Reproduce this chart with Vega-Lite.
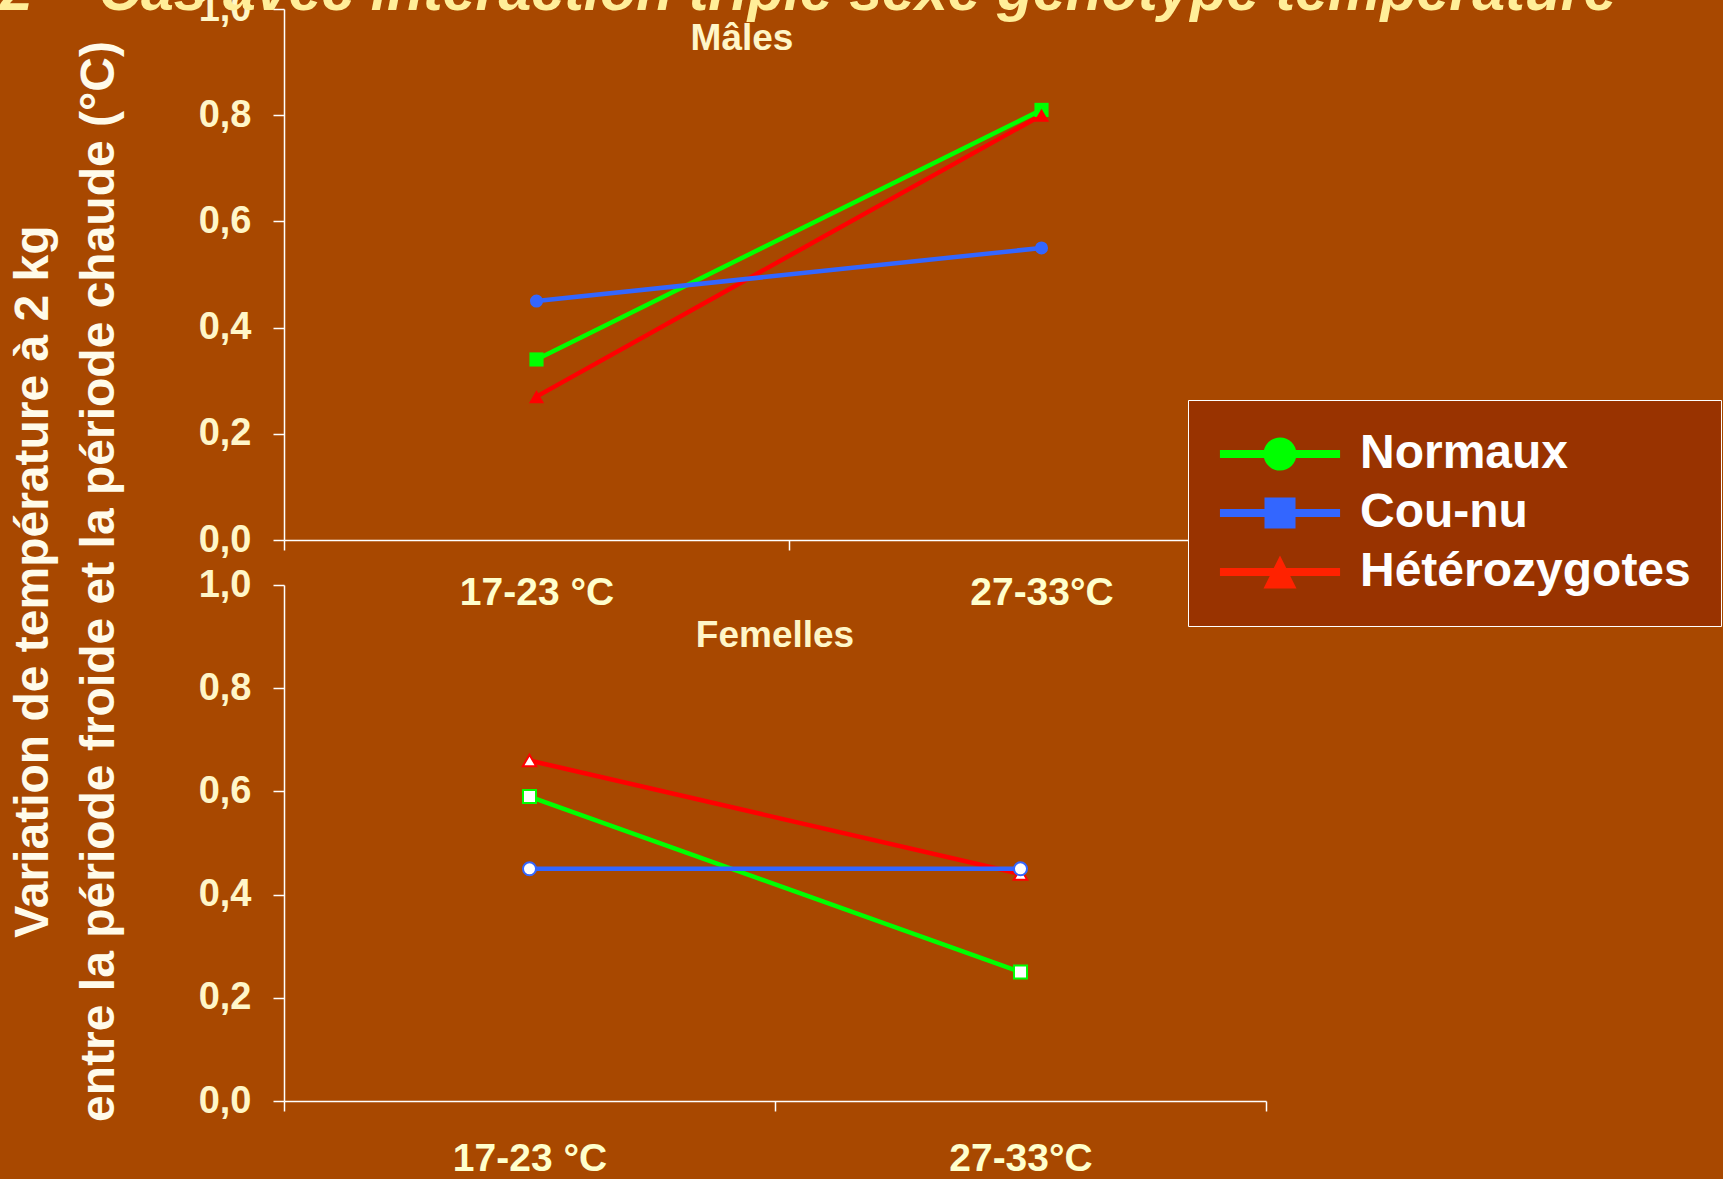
{
  "$schema": "https://vega.github.io/schema/vega-lite/v6.json",
  "background": "#A84800",
  "padding": {"left": 0, "top": -37, "right": 12, "bottom": 20},
  "autosize": {"type": "pad"},
  "title": {
    "text": "2 – Cas avec interaction triple sexe génotype température",
    "anchor": "start",
    "frame": "group",
    "dx": -284,
    "offset": -79,
    "baseline": "alphabetic",
    "font": "Liberation Sans",
    "fontSize": 59,
    "fontWeight": "bold",
    "fontStyle": "italic",
    "color": "#FFEE99"
  },
  "datasets": {
    "d": [
      {"sexe": "Mâles", "genotype": "Normaux", "temp": "17-23 °C", "valeur": 0.34},
      {"sexe": "Mâles", "genotype": "Normaux", "temp": "27-33°C", "valeur": 0.81},
      {"sexe": "Mâles", "genotype": "Hétérozygotes", "temp": "17-23 °C", "valeur": 0.27},
      {"sexe": "Mâles", "genotype": "Hétérozygotes", "temp": "27-33°C", "valeur": 0.80},
      {"sexe": "Mâles", "genotype": "Cou-nu", "temp": "17-23 °C", "valeur": 0.45},
      {"sexe": "Mâles", "genotype": "Cou-nu", "temp": "27-33°C", "valeur": 0.55},
      {"sexe": "Femelles", "genotype": "Normaux", "temp": "17-23 °C", "valeur": 0.59},
      {"sexe": "Femelles", "genotype": "Normaux", "temp": "27-33°C", "valeur": 0.25},
      {"sexe": "Femelles", "genotype": "Hétérozygotes", "temp": "17-23 °C", "valeur": 0.66},
      {"sexe": "Femelles", "genotype": "Hétérozygotes", "temp": "27-33°C", "valeur": 0.44},
      {"sexe": "Femelles", "genotype": "Cou-nu", "temp": "17-23 °C", "valeur": 0.45},
      {"sexe": "Femelles", "genotype": "Cou-nu", "temp": "27-33°C", "valeur": 0.45}
    ]
  },
  "spacing": 45,
  "bounds": "flush",
  "config": {
    "font": "Liberation Sans",
    "view": {"stroke": null},
    "axis": {
      "labelFont": "Liberation Sans",
      "labelFontWeight": "bold",
      "labelColor": "#FFF6C8",
      "domainColor": "#FFFFFF",
      "tickColor": "#FFFFFF",
      "domainWidth": 1.5,
      "tickWidth": 1.5,
      "grid": false
    }
  },
  "vconcat": [
    {
      "width": 1010,
      "height": 531,
      "title": {
        "text": "Mâles",
        "anchor": "middle",
        "offset": -97,
        "dx": -47,
        "baseline": "alphabetic",
        "font": "Liberation Sans",
        "fontSize": 37,
        "fontWeight": "bold",
        "color": "#FFF6C8"
      },
      "data": {"name": "d"},
      "transform": [{"filter": "datum.sexe === 'Mâles'"}],
      "encoding": {
        "x": {
          "field": "temp",
          "type": "nominal",
          "bandPosition": 0.5,
          "sort": ["17-23 °C", "27-33°C"],
          "scale": {"type": "band", "paddingInner": 0, "paddingOuter": 0},
          "axis": {
            "title": null,
            "labelAngle": 0,
            "labelFontSize": 39,
            "labelPadding": 23,
            "tickSize": 10,
            "tickBand": "extent",
            "labelColor": "#FFFFCC"
          }
        },
        "y": {
          "field": "valeur",
          "type": "quantitative",
          "scale": {"domain": [0, 1]},
          "axis": {
            "values": [0, 0.2, 0.4, 0.6, 0.8, 1],
            "labelExpr": "replace(format(datum.value, '.1f'), '.', ',')",
            "labelFontSize": 38,
            "labelPadding": 22,
            "tickSize": 11,
            "title": ["Variation de température à 2 kg", "entre la période froide et la période chaude (°C)"],
            "titleX": -251,
            "titleY": 572,
            "titleAngle": -90,
            "titleAlign": "center",
            "titleBaseline": "middle",
            "titleFont": "Liberation Sans",
            "titleFontSize": 48,
            "titleLineHeight": 66,
            "titleFontWeight": "bold",
            "titleColor": "#FFFBEA"
          }
        }
      },
      "layer": [
        {
          "transform": [{"filter": "datum.genotype === 'Normaux'"}],
          "mark": {"type": "line", "strokeWidth": 4.5, "color": "#00FF00"}
        },
        {
          "transform": [{"filter": "datum.genotype === 'Hétérozygotes'"}],
          "mark": {"type": "line", "strokeWidth": 4.5, "color": "#FF0000"}
        },
        {
          "transform": [{"filter": "datum.genotype === 'Cou-nu'"}],
          "mark": {"type": "line", "strokeWidth": 4.5, "color": "#3366FF"}
        },
        {
          "transform": [{"filter": "datum.genotype === 'Normaux'"}],
          "mark": {"type": "point", "shape": "square", "filled": true, "color": "#00FF00", "size": 200, "opacity": 1}
        },
        {
          "transform": [{"filter": "datum.genotype === 'Hétérozygotes'"}],
          "mark": {"type": "point", "shape": "triangle-up", "filled": true, "color": "#FF0000", "size": 230, "opacity": 1}
        },
        {
          "transform": [{"filter": "datum.genotype === 'Cou-nu'"}],
          "mark": {"type": "point", "shape": "circle", "filled": true, "color": "#3366FF", "size": 170, "opacity": 1}
        },
        {
          "mark": {"type": "point", "filled": true, "opacity": 0, "size": 10},
          "encoding": {
            "color": {
              "field": "genotype",
              "type": "nominal",
              "scale": {"domain": ["Normaux", "Cou-nu", "Hétérozygotes"], "range": ["#00FF00", "#3366FF", "#FF2200"]},
              "legend": {
                "title": null,
                "orient": "none",
                "legendX": 904,
                "legendY": 391,
                "direction": "vertical",
                "fillColor": "#993300",
                "strokeColor": "#FFFFFF",
                "padding": 30,
                "symbolSize": 1089,
                "symbolOffset": 38,
                "symbolStrokeWidth": 0,
                "symbolOpacity": 1,
                "labelFont": "Liberation Sans",
                "labelFontSize": 48,
                "labelFontWeight": "bold",
                "labelColor": "#FFFFFF",
                "labelOffset": 56,
                "labelLimit": 700,
                "rowPadding": 11
              }
            },
            "shape": {
              "field": "genotype",
              "type": "nominal",
              "scale": {
                "domain": ["Normaux", "Cou-nu", "Hétérozygotes"],
                "range": [
                  "M-3.64,-0.24H3.64V0.24H-3.64Z M-1,0A1,1 0 1,1 1,0A1,1 0 1,1 -1,0Z",
                  "M-3.64,-0.24H3.64V0.24H-3.64Z M-0.94,-0.94H0.94V0.94H-0.94Z",
                  "M-3.64,-0.24H3.64V0.24H-3.64Z M0,-1L1,1H-1Z"
                ]
              },
              "legend": {
                "title": null,
                "orient": "none",
                "legendX": 904,
                "legendY": 391,
                "direction": "vertical",
                "fillColor": "#993300",
                "strokeColor": "#FFFFFF",
                "padding": 30,
                "symbolSize": 1089,
                "symbolOffset": 38,
                "symbolStrokeWidth": 0,
                "symbolOpacity": 1,
                "labelFont": "Liberation Sans",
                "labelFontSize": 48,
                "labelFontWeight": "bold",
                "labelColor": "#FFFFFF",
                "labelOffset": 56,
                "labelLimit": 700,
                "rowPadding": 11
              }
            }
          }
        }
      ]
    },
    {
      "width": 982,
      "height": 516,
      "title": {
        "text": "Femelles",
        "anchor": "middle",
        "offset": -118,
        "baseline": "alphabetic",
        "font": "Liberation Sans",
        "fontSize": 37,
        "fontWeight": "bold",
        "color": "#FFF6C8"
      },
      "data": {"name": "d"},
      "transform": [{"filter": "datum.sexe === 'Femelles'"}],
      "encoding": {
        "x": {
          "field": "temp",
          "type": "nominal",
          "bandPosition": 0.5,
          "sort": ["17-23 °C", "27-33°C"],
          "scale": {"type": "band", "paddingInner": 0, "paddingOuter": 0},
          "axis": {
            "title": null,
            "labelAngle": 0,
            "labelFontSize": 39,
            "labelPadding": 28,
            "tickSize": 10,
            "tickBand": "extent",
            "labelColor": "#FFFFCC"
          }
        },
        "y": {
          "field": "valeur",
          "type": "quantitative",
          "scale": {"domain": [0, 1]},
          "axis": {
            "values": [0, 0.2, 0.4, 0.6, 0.8, 1],
            "labelExpr": "replace(format(datum.value, '.1f'), '.', ',')",
            "labelFontSize": 38,
            "labelPadding": 22,
            "tickSize": 11,
            "title": null
          }
        }
      },
      "layer": [
        {
          "transform": [{"filter": "datum.genotype === 'Normaux'"}],
          "mark": {"type": "line", "strokeWidth": 4.5, "color": "#00FF00"}
        },
        {
          "transform": [{"filter": "datum.genotype === 'Hétérozygotes'"}],
          "mark": {"type": "line", "strokeWidth": 4.5, "color": "#FF0000"}
        },
        {
          "transform": [{"filter": "datum.genotype === 'Cou-nu'"}],
          "mark": {"type": "line", "strokeWidth": 4.5, "color": "#3366FF"}
        },
        {
          "transform": [{"filter": "datum.genotype === 'Normaux'"}],
          "mark": {"type": "point", "shape": "square", "fill": "#FFFFFF", "stroke": "#00FF00", "strokeWidth": 2, "size": 170, "opacity": 1}
        },
        {
          "transform": [{"filter": "datum.genotype === 'Hétérozygotes'"}],
          "mark": {"type": "point", "shape": "triangle-up", "fill": "#FFFFFF", "stroke": "#FF0000", "strokeWidth": 2, "size": 180, "opacity": 1}
        },
        {
          "transform": [{"filter": "datum.genotype === 'Cou-nu'"}],
          "mark": {"type": "point", "shape": "circle", "fill": "#FFFFFF", "stroke": "#3366FF", "strokeWidth": 2, "size": 170, "opacity": 1}
        }
      ]
    }
  ]
}
